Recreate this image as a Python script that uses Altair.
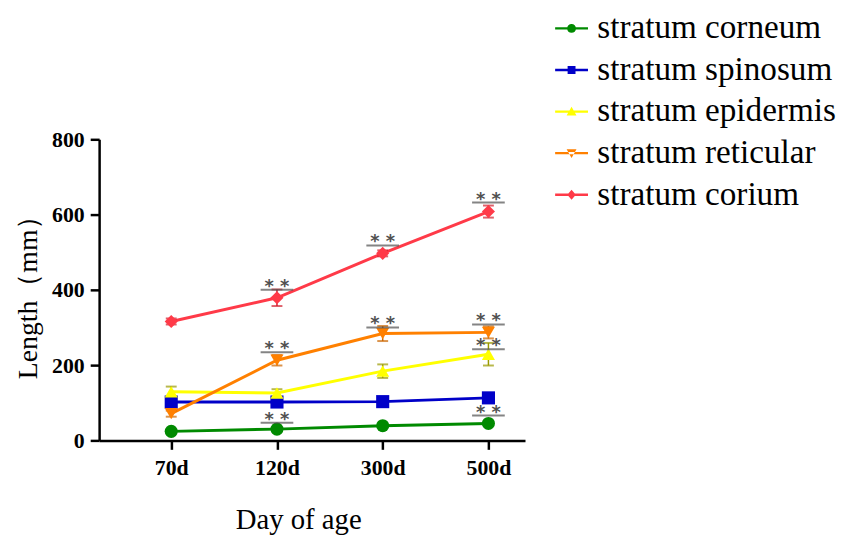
import altair as alt
import pandas as pd

days = ["70d", "120d", "300d", "500d"]
layers = ["stratum corneum", "stratum spinosum", "stratum epidermis",
          "stratum reticular", "stratum corium"]
colors = ["#008A00", "#0000C8", "#FFFF00", "#FF8000", "#FF3A48"]
err_colors = ["#006400", "#00008B", "#9A9A00", "#CC6600", "#D0202E"]
shapes = ["circle", "square", "triangle-up", "triangle-down", "diamond"]

corneum = [24, 30, 39, 45]
spinosum = [102, 102, 103, 113]
epidermis = [129, 126, 184, 229]
reticular = [71, 213, 284, 287]
corium = [316, 379, 497, 608]
corneum_err = [4, 4, 4, 5]
spinosum_err = [5, 5, 5, 5]
epidermis_err = [14, 10, 18, 30]
reticular_err = [8, 14, 20, 16]
corium_err = [8, 22, 8, 16]

sig_day = ["120d", "300d", "500d", "120d", "300d", "500d", "500d", "120d", "500d"]
sig_y = [400, 518, 632, 234, 300, 308, 242, 47, 66]

values = [corneum, spinosum, epidermis, reticular, corium]
errors = [corneum_err, spinosum_err, epidermis_err, reticular_err, corium_err]

rows = []
for li, name in enumerate(layers):
    for di, d in enumerate(days):
        v = values[li][di]
        e = errors[li][di]
        rows.append({"layer": name, "day": d, "idx": di, "v": v,
                     "lo": v - e, "hi": v + e})
df = pd.DataFrame(rows)
sig = pd.DataFrame({"idx": [days.index(d) for d in sig_day], "y": sig_y})

label_expr = "[" + ",".join("'%s'" % d for d in days) + "][datum.value]"

SERIF = "Liberation Serif"

line_path = "M-1,-0.07H1V0.07H-1Z "
marker_paths = [
    "M-0.27,0A0.27,0.27 0 1,1 0.27,0A0.27,0.27 0 1,1 -0.27,0Z",
    "M-0.24,-0.24H0.24V0.24H-0.24Z",
    "M0,-0.3L0.3,0.24H-0.3Z",
    "M0,0.3L0.3,-0.24H-0.3Z",
    "M0,-0.3L0.26,0L0,0.3L-0.26,0Z",
]
legend_paths = [line_path + p for p in marker_paths]

legend = alt.Legend(
    title=None, orient="none", legendX=460, legendY=-129,
    labelFont=SERIF, labelFontSize=33.5, labelColor="black",
    symbolSize=1100, rowPadding=8, labelOffset=9, labelLimit=400,
    symbolStrokeWidth=0, symbolOpacity=1,
)

x_enc = alt.X("idx:Q", scale=alt.Scale(domain=[-0.682, 3.346], nice=False, zero=False),
              axis=alt.Axis(values=[0, 1, 2, 3], labelExpr=label_expr, title="Day of age",
                            labelFont=SERIF, labelFontSize=22, labelFontWeight="bold",
                            labelColor="black", titleFont=SERIF, titleFontSize=29,
                            titleFontWeight="normal", titleColor="black",
                            titleX=201, titleY=80, titleBaseline="middle",
                            tickSize=9, tickWidth=2.5, tickColor="black",
                            domainWidth=2.5, domainColor="black", labelPadding=8,
                            grid=False))
y_scale = alt.Scale(domain=[0, 800], nice=False)
y_axis = alt.Axis(values=[0, 200, 400, 600, 800], title="Length（mm）",
                  labelFont=SERIF, labelFontSize=22, labelFontWeight="bold",
                  labelColor="black", titleFont=SERIF, titleFontSize=28,
                  titleFontWeight="normal", titleColor="black", titlePadding=9,
                  tickSize=9, tickWidth=2.5, tickColor="black",
                  domainWidth=2.5, domainColor="black", labelPadding=6, grid=False)

color = alt.Color("layer:N", scale=alt.Scale(domain=layers, range=colors), legend=None)
ecolor = alt.Color("layer:N", scale=alt.Scale(domain=layers, range=err_colors), legend=None)

base = alt.Chart(df)

lines = base.mark_line(strokeWidth=3).encode(
    x=x_enc, y=alt.Y("v:Q", scale=y_scale, axis=y_axis), color=color,
    detail="layer:N")

err_rule = base.mark_rule(strokeWidth=1.5).encode(
    x="idx:Q", y="lo:Q", y2="hi:Q", color=ecolor)
cap_lo = base.mark_tick(orient="horizontal", size=11, thickness=2).encode(
    x="idx:Q", y="lo:Q", color=ecolor)
cap_hi = base.mark_tick(orient="horizontal", size=11, thickness=2).encode(
    x="idx:Q", y="hi:Q", color=ecolor)

points = base.mark_point(filled=True, size=175, opacity=1).encode(
    x="idx:Q", y="v:Q", color=color,
    shape=alt.Shape("layer:N", scale=alt.Scale(domain=layers, range=shapes), legend=None))

legend_layer = base.transform_filter("false").mark_point(filled=True, opacity=1).encode(
    x="idx:Q", y="v:Q",
    color=alt.Color("layer:N", scale=alt.Scale(domain=layers, range=colors), legend=legend),
    shape=alt.Shape("layer:N", scale=alt.Scale(domain=layers, range=legend_paths), legend=legend))

sig_bar = alt.Chart(sig).mark_tick(orient="horizontal", size=33, thickness=2,
                                   color="#505050").encode(x="idx:Q", y="y:Q")
sig_txt = alt.Chart(sig).mark_text(text="*  *", font="DejaVu Sans", fontSize=18,
                                   fontWeight="bold", color="#505050",
                                   baseline="middle", dy=-3).encode(
    x="idx:Q", y="y:Q")

chart = alt.layer(err_rule, lines, cap_lo, cap_hi, points, sig_bar, sig_txt,
                  legend_layer).resolve_scale(
    color="independent", shape="independent"
).properties(
    width=430, height=304, autosize="none",
    padding={"left": 92, "top": 130, "right": 315, "bottom": 100},
).configure_view(stroke=None).configure_legend(
    labelFont=SERIF, labelFontSize=33.5, labelColor="black"
)

chart.save("out.html", embed_options={"renderer": "svg", "actions": False})
